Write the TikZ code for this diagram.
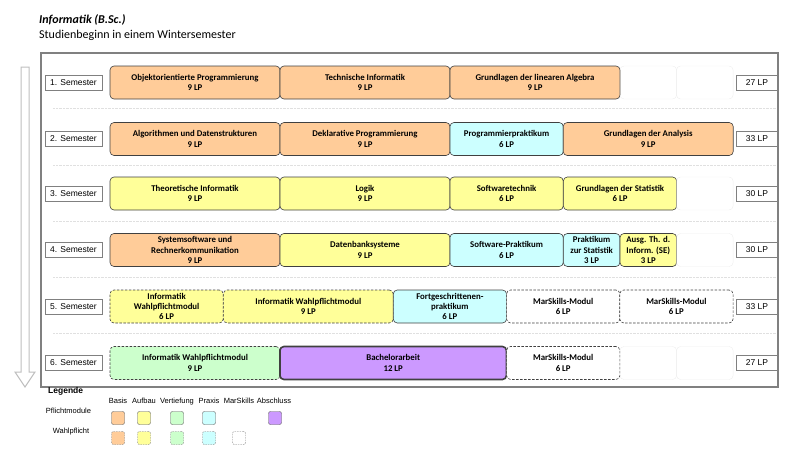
\documentclass[tikz,border=0pt]{standalone}
\usepackage{fontspec}
\setmainfont{Carlito}
\newfontfamily\arialfont{Liberation Sans}
\usepackage{tikz}
\usetikzlibrary{arrows.meta}
\usepackage{xcolor}
\definecolor{basis}{HTML}{FFCC99}
\definecolor{aufbau}{HTML}{FFFF99}
\definecolor{vertief}{HTML}{CCFFCC}
\definecolor{praxis}{HTML}{CCFFFF}
\definecolor{abschl}{HTML}{CC99FF}
\definecolor{modline}{HTML}{404040}

\begin{document}
\begin{tikzpicture}[x=1pt,y=-1pt,font=\bfseries\fontsize{8.8}{10.4}\selectfont,
mod/.style={draw=modline,semithick,rounded corners=4pt,align=center,minimum height=33pt,inner sep=1pt},
wp/.style={mod,dash pattern=on 2.5pt off 1.5pt},
leer/.style={draw=black!7,rounded corners=4pt,minimum height=33pt,minimum width=56.6pt},
sem/.style={draw=black!50,fill=white,font=\arialfont\fontsize{8.5}{10}\selectfont,minimum width=57pt,minimum height=15pt,inner sep=0pt},
lp/.style={sem,minimum width=42pt},
w3/.style={minimum width=56.6pt},w6/.style={minimum width=113.3pt},w9/.style={minimum width=170pt},w12/.style={minimum width=226.5pt},
leg/.style={font=\arialfont\fontsize{7.5}{8}\selectfont,inner sep=0pt},
sq/.style={draw=black!65,rounded corners=2pt,minimum size=13pt,inner sep=0pt},
sqw/.style={sq,draw=black!55,dash pattern=on 1.5pt off 1pt}]
\useasboundingbox (0,0) rectangle (800,463);
% title
\node[anchor=west,inner sep=0pt,font=\bfseries\itshape\fontsize{12}{14}\selectfont](ti) at (39,20){Informatik (B.Sc.)};
\node[anchor=west,inner sep=0pt,font=\fontsize{12}{14}\selectfont](st) at (39,35){Studienbeginn in einem Wintersemester};
% arrow
\draw[draw=black!25,fill=white,line width=1pt](21,67)--(29,67)--(29,372)--(35,372)--(25,387)--(15,372)--(21,372)--cycle;
% separators
\foreach \y in {108,165,221,277,333}{\draw[black!12,densely dotted](53,\y)--(776,\y);}
% semester labels and LP
\foreach \i/\y/\l in {1/82.5/27,2/139/33,3/193.5/30,4/250/30,5/306.5/33,6/363/27}{
\node[sem](s\i) at (73.5,\y){\i. Semester};
\node[lp](lp\i) at (757,\y){\l\ LP};}
% 1. Semester
\node[mod,w9,fill=basis](oop) at (195,82.5){Objektorientierte Programmierung\\9 LP};
\node[mod,w9,fill=basis](tinf) at (365,82.5){Technische Informatik\\9 LP};
\node[mod,w9,fill=basis](la) at (535,82.5){Grundlagen der linearen Algebra\\9 LP};
\node[leer](e1a) at (648.3,82.5){};
\node[leer](e1b) at (704.8,82.5){};
% 2. Semester
\node[mod,w9,fill=basis](ad) at (195,139){Algorithmen und Datenstrukturen\\9 LP};
\node[mod,w9,fill=basis](dp) at (365,139){Deklarative Programmierung\\9 LP};
\node[mod,w6,fill=praxis](pp) at (506.6,139){Programmierpraktikum\\6 LP};
\node[mod,w9,fill=basis](ana) at (648.2,139){Grundlagen der Analysis\\9 LP};
% 3. Semester
\node[mod,w9,fill=aufbau](thi) at (195,193.5){Theoretische Informatik\\9 LP};
\node[mod,w9,fill=aufbau](log) at (365,193.5){Logik\\9 LP};
\node[mod,w6,fill=aufbau](swt) at (506.6,193.5){Softwaretechnik\\6 LP};
\node[mod,w6,fill=aufbau](sta) at (620,193.5){Grundlagen der Statistik\\6 LP};
\node[leer](e3) at (704.8,193.5){};
% 4. Semester
\node[mod,w9,fill=basis](sys) at (195,250){Systemsoftware und\\Rechnerkommunikation\\9 LP};
\node[mod,w9,fill=aufbau](db) at (365,250){Datenbanksysteme\\9 LP};
\node[mod,w6,fill=praxis](swp) at (506.6,250){Software-Praktikum\\6 LP};
\node[mod,w3,fill=praxis](pst) at (591.6,250){Praktikum\\zur Statistik\\3 LP};
\node[mod,w3,fill=aufbau](se) at (648.3,250){Ausg. Th. d.\\Inform. (SE)\\3 LP};
\node[leer](e4) at (704.8,250){};
% 5. Semester
\node[wp,w6,fill=aufbau](wa) at (166.6,306.5){Informatik\\Wahlpflichtmodul\\6 LP};
\node[wp,w9,fill=aufbau](wb) at (308.3,306.5){Informatik Wahlpflichtmodul\\9 LP};
\node[mod,w6,fill=praxis](fp) at (449.9,306.5){Fortgeschrittenen-\\praktikum\\6 LP};
\node[wp,w6,fill=white](ma) at (563.2,306.5){MarSkills-Modul\\6 LP};
\node[wp,w6,fill=white](mb) at (676.4,306.5){MarSkills-Modul\\6 LP};
% 6. Semester
\node[wp,w9,fill=vertief](wc) at (195,363){Informatik Wahlpflichtmodul\\9 LP};
\node[mod,w12,fill=abschl,line width=1.6pt](ba) at (393.2,363){Bachelorarbeit\\12 LP};
\node[wp,w6,fill=white](mc) at (563.2,363){MarSkills-Modul\\6 LP};
\node[leer](e6a) at (648.3,363){};
\node[leer](e6b) at (704.8,363){};
% frame
\draw[black!50,line width=1.2pt](41,53) rectangle (778,387);
% legend
\node[anchor=west,inner sep=0pt,font=\arialfont\bfseries\fontsize{8.5}{10}\selectfont](lg) at (48,391){Legende};
\node[leg](lpf) at (68.5,411){Pflichtmodule};
\node[leg](lwp) at (71,432){Wahlpflicht};
\foreach \n/\x/\t in {b/118/Basis,a/144/Aufbau,v/177/Vertiefung,p/209/Praxis,m/239/MarSkills,e/274/Abschluss}{
\node[leg,anchor=base](h\n) at (\x,403){\t};}
\node[sq,fill=basis](pb) at (118,418){};
\node[sq,fill=aufbau](pa) at (144,418){};
\node[sq,fill=vertief](pv) at (177,418){};
\node[sq,fill=praxis](ppx) at (209,418){};
\node[sq,fill=abschl](pe) at (275,418){};
\node[sqw,fill=basis](wpb) at (118,438){};
\node[sqw,fill=aufbau](wpa) at (144,438){};
\node[sqw,fill=vertief](wpv) at (177,438){};
\node[sqw,fill=praxis](wpp) at (209,438){};
\node[sqw,fill=white](wpm) at (239,438){};
\end{tikzpicture}
\end{document}
